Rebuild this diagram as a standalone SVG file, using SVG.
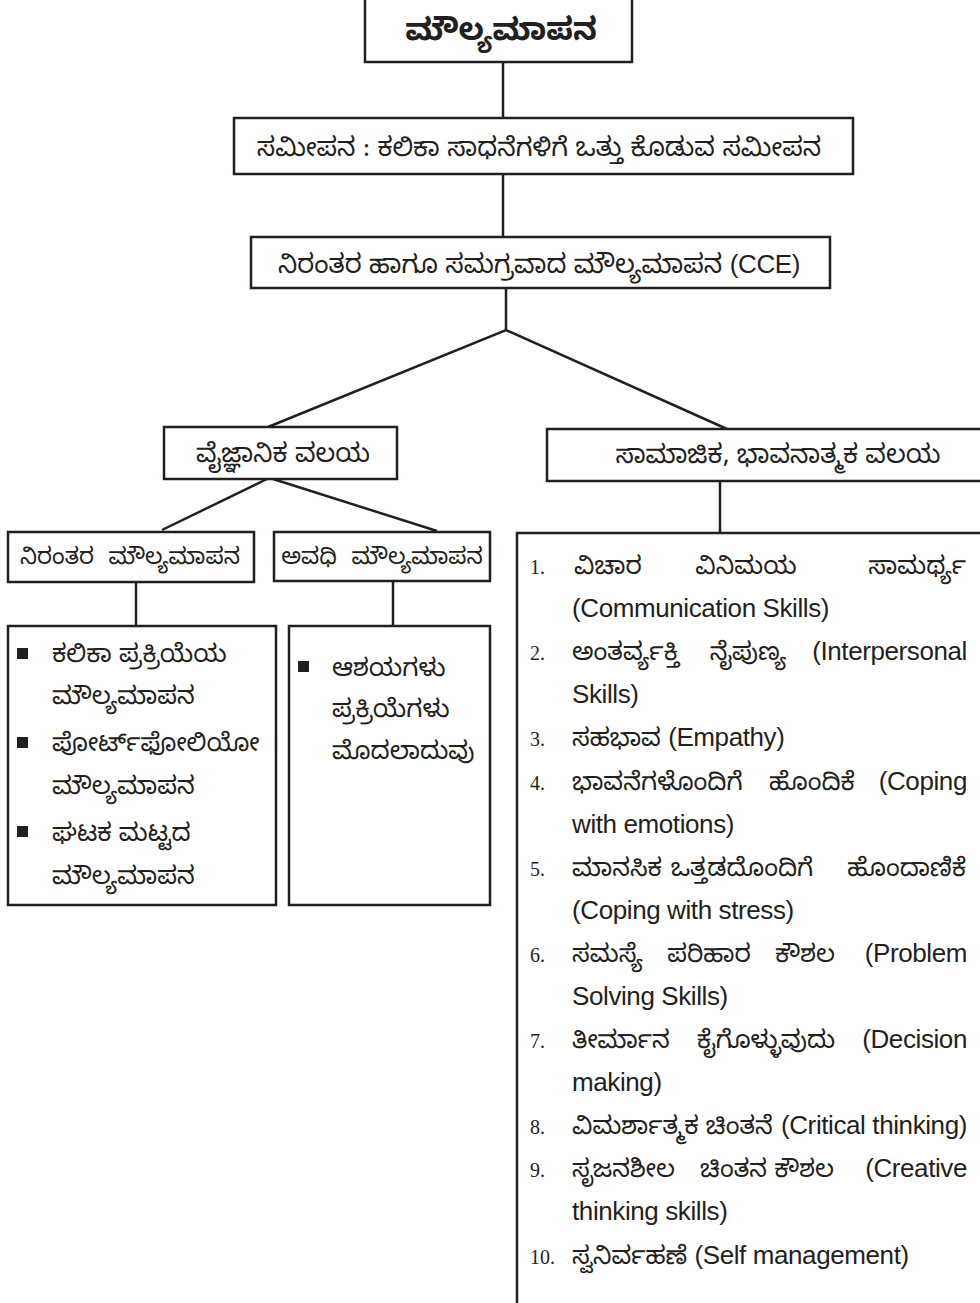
<svg xmlns="http://www.w3.org/2000/svg" width="980" height="1303" viewBox="0 0 980 1303">
<style>
.box{fill:#fff;stroke:#231f20;stroke-width:2.5}
.ln{stroke:#231f20;stroke-width:2.5;fill:none}
.kn{font-family:"Noto Sans Kannada","Noto Serif Kannada","Lohit Kannada","Tunga","Noto Sans",sans-serif;fill:#231f20;font-size:25px}
.c{text-anchor:middle}
.e{text-anchor:end}
.num{font-family:"Liberation Serif",serif;font-size:20px;fill:#231f20}
.lat{font-family:"Liberation Sans",Arial,sans-serif;font-size:26px;letter-spacing:-0.4px}
.bul{fill:#231f20}
</style>
<rect width="980" height="1303" fill="#fff"/>
<g id="connectors">
<line class="ln" x1="503" y1="62" x2="503" y2="118"/>
<line class="ln" x1="503" y1="174" x2="503" y2="237"/>
<polyline class="ln" points="268,427 506,330 727,429"/>
<line class="ln" x1="506" y1="288" x2="506" y2="330"/>
<line class="ln" x1="267" y1="479" x2="162" y2="530"/>
<line class="ln" x1="273" y1="479" x2="437" y2="531"/>
<line class="ln" x1="136" y1="582" x2="136" y2="626"/>
<line class="ln" x1="393" y1="581" x2="393" y2="626"/>
<line class="ln" x1="720" y1="481" x2="720" y2="533"/>
</g>
<g id="n-title">
<rect class="box" x="365" y="-3" width="267" height="65"/>
<text class="kn c" x="501" y="40" style="font-size:31px;font-weight:bold">ಮೌಲ್ಯಮಾಪನ</text>
</g>
<g id="n-approach">
<rect class="box" x="234" y="118" width="619" height="56"/>
<text class="kn c" x="539" y="156" style="font-size:26px">ಸಮೀಪನ : ಕಲಿಕಾ ಸಾಧನೆಗಳಿಗೆ ಒತ್ತು ಕೊಡುವ ಸಮೀಪನ</text>
</g>
<g id="n-cce">
<rect class="box" x="251" y="237" width="579" height="51"/>
<text class="kn c" x="539" y="273" style="font-size:26px">ನಿರಂತರ ಹಾಗೂ ಸಮಗ್ರವಾದ ಮೌಲ್ಯಮಾಪನ <tspan class="lat">(CCE)</tspan></text>
</g>
<g id="n-scholastic">
<rect class="box" x="164" y="427" width="233" height="52"/>
<text class="kn c" x="283" y="462" style="font-size:26px">ವೈಜ್ಞಾನಿಕ ವಲಯ</text>
</g>
<g id="n-coscholastic">
<rect class="box" x="547" y="429" width="440" height="52"/>
<text class="kn c" x="778" y="463" style="font-size:26px">ಸಾಮಾಜಿಕ, ಭಾವನಾತ್ಮಕ ವಲಯ</text>
</g>
<g id="n-continuous">
<rect class="box" x="8" y="532" width="246" height="50"/>
<text class="kn c" x="130" y="564" style="font-size:23px;word-spacing:8px">ನಿರಂತರ ಮೌಲ್ಯಮಾಪನ</text>
</g>
<g id="n-periodic">
<rect class="box" x="274" y="532" width="216" height="49"/>
<text class="kn c" x="382" y="564" style="font-size:23px;word-spacing:8px">ಅವಧಿ ಮೌಲ್ಯಮಾಪನ</text>
</g>
<g id="n-continuous-list">
<rect class="box" x="8" y="626" width="268" height="279"/>
<rect class="bul" x="17" y="648" width="11" height="11"/>
<rect class="bul" x="17" y="737" width="11" height="11"/>
<rect class="bul" x="17" y="826" width="11" height="11"/>
<text class="kn" x="52" y="662">ಕಲಿಕಾ ಪ್ರಕ್ರಿಯೆಯ</text>
<text class="kn" x="52" y="704">ಮೌಲ್ಯಮಾಪನ</text>
<text class="kn" x="52" y="751">ಪೋರ್ಟ್‌ಫೋಲಿಯೋ</text>
<text class="kn" x="52" y="794">ಮೌಲ್ಯಮಾಪನ</text>
<text class="kn" x="52" y="841">ಘಟಕ ಮಟ್ಟದ</text>
<text class="kn" x="52" y="884">ಮೌಲ್ಯಮಾಪನ</text>
</g>
<g id="n-periodic-list">
<rect class="box" x="289" y="626" width="201" height="279"/>
<rect class="bul" x="298" y="661" width="11" height="11"/>
<text class="kn" x="332" y="676">ಆಶಯಗಳು</text>
<text class="kn" x="332" y="717">ಪ್ರಕ್ರಿಯೆಗಳು</text>
<text class="kn" x="332" y="759">ಮೊದಲಾದುವು</text>
</g>
<g id="n-skills-list">
<rect class="box" x="517" y="533" width="470" height="790"/>
<g class="num">
<text x="530" y="574">1.</text>
<text x="530" y="660">2.</text>
<text x="530" y="746">3.</text>
<text x="530" y="790">4.</text>
<text x="530" y="876">5.</text>
<text x="530" y="962">6.</text>
<text x="530" y="1048">7.</text>
<text x="530" y="1134">8.</text>
<text x="530" y="1177">9.</text>
<text x="530" y="1264">10.</text>
</g>
<g class="kn">
<text x="574" y="574">ವಿಚಾರ</text>
<text class="c" x="746" y="574">ವಿನಿಮಯ</text>
<text class="e" x="966" y="574">ಸಾಮರ್ಥ್ಯ</text>
<text class="lat" x="572" y="617">(Communication Skills)</text>
<text x="572" y="660">ಅಂತರ್ವ್ಯಕ್ತಿ</text>
<text class="c" x="748" y="660">ನೈಪುಣ್ಯ</text>
<text class="e lat" x="967" y="660">(Interpersonal</text>
<text class="lat" x="572" y="703">Skills)</text>
<text x="572" y="746">ಸಹಭಾವ <tspan class="lat">(Empathy)</tspan></text>
<text x="572" y="790">ಭಾವನೆಗಳೊಂದಿಗೆ</text>
<text class="c" x="812" y="790">ಹೊಂದಿಕೆ</text>
<text class="e lat" x="967" y="790">(Coping</text>
<text class="lat" x="572" y="833">with emotions)</text>
<text x="572" y="876">ಮಾನಸಿಕ</text>
<text class="c" x="742" y="876">ಒತ್ತಡದೊಂದಿಗೆ</text>
<text class="e" x="966" y="876">ಹೊಂದಾಣಿಕೆ</text>
<text class="lat" x="572" y="919">(Coping with stress)</text>
<text x="572" y="962">ಸಮಸ್ಯೆ</text>
<text class="c" x="709" y="962">ಪರಿಹಾರ</text>
<text class="c" x="805" y="962">ಕೌಶಲ</text>
<text class="e lat" x="967" y="962">(Problem</text>
<text class="lat" x="572" y="1005">Solving Skills)</text>
<text x="572" y="1048">ತೀರ್ಮಾನ</text>
<text class="c" x="766" y="1048">ಕೈಗೊಳ್ಳುವುದು</text>
<text class="e lat" x="967" y="1048">(Decision</text>
<text class="lat" x="572" y="1091">making)</text>
<text x="572" y="1134">ವಿಮರ್ಶಾತ್ಮಕ ಚಿಂತನೆ</text>
<text class="e lat" x="967" y="1134">(Critical thinking)</text>
<text x="572" y="1177">ಸೃಜನಶೀಲ</text>
<text class="c" x="767" y="1177">ಚಿಂತನ ಕೌಶಲ</text>
<text class="e lat" x="967" y="1177">(Creative</text>
<text class="lat" x="572" y="1220">thinking skills)</text>
<text x="572" y="1264">ಸ್ವನಿರ್ವಹಣೆ <tspan class="lat">(Self management)</tspan></text>
</g>
</g>
</svg>
